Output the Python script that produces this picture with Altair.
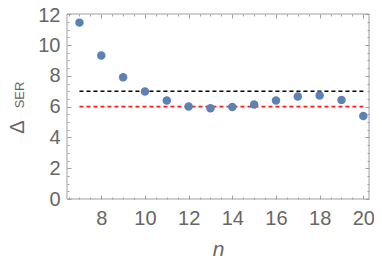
import altair as alt
import pandas as pd

# ---- data ----
n_vals = [7, 8, 9, 10, 11, 12, 13, 14, 15, 16, 17, 18, 19, 20]
delta_ser = [11.46, 9.33, 7.91, 6.98, 6.40, 6.01, 5.90, 5.97, 6.14, 6.40, 6.66, 6.72, 6.44, 5.39]
ref_black = [7.0]
ref_red = [6.0]
rule_from = [7]
rule_to = [20]
x_labels = [8, 10, 12, 14, 16, 18, 20]
y_labels = [0, 2, 4, 6, 8, 10, 12]
x_ticks = [6.5, 7, 7.5, 8, 8.5, 9, 9.5, 10, 10.5, 11, 11.5, 12, 12.5, 13, 13.5,
           14, 14.5, 15, 15.5, 16, 16.5, 17, 17.5, 18, 18.5, 19, 19.5, 20]
y_ticks = [0, 0.5, 1, 1.5, 2, 2.5, 3, 3.5, 4, 4.5, 5, 5.5, 6, 6.5, 7, 7.5, 8,
           8.5, 9, 9.5, 10, 10.5, 11, 11.5, 12]

pts = pd.DataFrame({"n": n_vals, "d": delta_ser})
black_df = pd.DataFrame({"x": rule_from, "x2": rule_to, "y": ref_black})
red_df = pd.DataFrame({"x": rule_from, "x2": rule_to, "y": ref_red})
sub_df = pd.DataFrame({"t": ["SER"]})
frame_df = pd.DataFrame({"k": [0]})

W, H = 302, 185
GRAY = "#666666"
FRAME = "#a0a0a0"
FONT = "Liberation Sans"

xscale = alt.Scale(domain=[6.43, 20.26], nice=False, zero=False)
yscale = alt.Scale(domain=[0, 12.02], nice=False, zero=False)

major_minor = {"condition": {"test": "datum.value % 2 === 0", "value": 4}, "value": 2}


def tick_axis(orient, values, offset):
    return alt.Axis(orient=orient, offset=offset, values=values, labels=False,
                    domain=False, grid=False, ticks=True, tickSize=major_minor,
                    tickColor=FRAME, tickWidth=1, title=None)


x_label_axis = alt.Axis(
    orient="bottom", values=x_labels, ticks=False, tickSize=0, domain=False,
    grid=False, labelFlush=False, labelOverlap=False, labelPadding=9,
    labelFont=FONT, labelFontSize=20, labelColor=GRAY,
    title="n", titleFont=FONT, titleFontSize=21, titleFontStyle="italic",
    titleFontWeight="normal", titleColor=GRAY, titleX=151, titleY=56,
    titleAlign="center", titleBaseline="alphabetic")

y_label_axis = alt.Axis(
    orient="left", values=y_labels, ticks=False, tickSize=0, domain=False,
    grid=False, labelFlush=False, labelOverlap=False, labelPadding=7,
    labelOffset={"condition": {"test": "datum.value === 12", "value": 1}, "value": 0},
    labelFont=FONT, labelFontSize=20, labelColor=GRAY,
    title="Δ", titleFont=FONT, titleFontSize=20, titleFontWeight="normal",
    titleColor=GRAY, titleAngle=270, titleX=-43.5, titleY=112.5,
    titleAlign="center", titleBaseline="alphabetic")

frame_h = alt.Chart(frame_df).mark_rule(color=FRAME, strokeWidth=1).encode(
    x=alt.value(0), x2=alt.value(W), y=alt.value(0))
frame_b = alt.Chart(frame_df).mark_rule(color=FRAME, strokeWidth=1).encode(
    x=alt.value(0), x2=alt.value(W), y=alt.value(H))
frame_l = alt.Chart(frame_df).mark_rule(color=FRAME, strokeWidth=1).encode(
    x=alt.value(0), y=alt.value(0), y2=alt.value(H))
frame_r = alt.Chart(frame_df).mark_rule(color=FRAME, strokeWidth=1).encode(
    x=alt.value(W), y=alt.value(0), y2=alt.value(H))

black_rule = alt.Chart(black_df).mark_rule(
    color="black", strokeDash=[4, 3], strokeWidth=1.6
).encode(
    x=alt.X("x:Q", scale=xscale, axis=tick_axis("top", x_ticks, -H)),
    x2="x2:Q",
    y=alt.Y("y:Q", scale=yscale, axis=tick_axis("right", y_ticks, -W)),
)

red_rule = alt.Chart(red_df).mark_rule(
    color="#ff1a1a", strokeDash=[4, 3], strokeWidth=1.6
).encode(
    x=alt.X("x:Q", scale=xscale, axis=tick_axis("bottom", x_ticks, -H)),
    x2="x2:Q",
    y=alt.Y("y:Q", scale=yscale, axis=tick_axis("left", y_ticks, -W)),
)

points = alt.Chart(pts).mark_circle(size=72, color="#5E81B5", opacity=1).encode(
    x=alt.X("n:Q", scale=xscale, axis=x_label_axis),
    y=alt.Y("d:Q", scale=yscale, axis=y_label_axis),
)

subscript = alt.Chart(sub_df).mark_text(
    angle=270, align="center", baseline="alphabetic", font=FONT,
    fontSize=13, color=GRAY
).encode(x=alt.value(-43), y=alt.value(81), text="t:N")

chart = alt.layer(frame_h, frame_b, frame_l, frame_r, black_rule, red_rule,
                  points, subscript).resolve_axis(
    x="independent", y="independent"
).properties(
    width=W, height=H,
    autosize=alt.AutoSizeParams(type="none"),
    padding={"left": 59, "top": 6, "right": 5, "bottom": 58},
    background="white",
).configure_view(strokeWidth=0)

chart.save("out.html", embed_options={"renderer": "svg", "actions": False})
